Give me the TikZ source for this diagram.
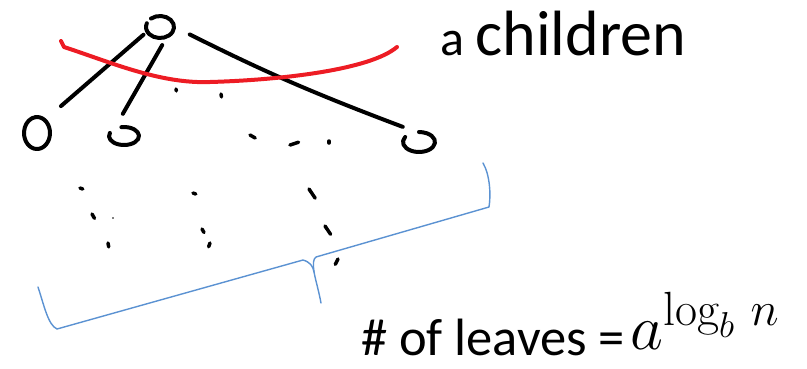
\RequirePackage{fix-cm}
\documentclass[tikz,border=0pt]{standalone}
\usepackage{fontspec}
\newfontfamily\calibri{Carlito}
\usepackage{tikz}
\definecolor{inkred}{RGB}{237,28,36}
\definecolor{braceblue}{RGB}{91,146,210}
\DeclareMathSizes{64}{64}{48}{36}

\begin{document}
\begin{tikzpicture}[x=1pt, y=1pt, line cap=round, line join=round,
    ink/.style={line width=4pt, black},
    vertex/.style={circle, inner sep=0pt, minimum size=#1},
    speck/.style={line width=3.5pt, black}]
\useasboundingbox (0,0) rectangle (807,-368);
% tree
\node[vertex=36pt] (root) at (160,-27) {};
\node[vertex=44pt] (leafA) at (37,-133) {};
\node[vertex=44pt] (leafB) at (124,-136) {};
\node[vertex=44pt] (leafC) at (419,-142) {};
\draw[ink] ([shift={(130:14 and 11)}]root.center) arc[start angle=130, end angle=-200, x radius=14, y radius=11];
\draw[ink] ([shift={(100:13 and 16)}]leafA.center) arc[start angle=100, end angle=-265, x radius=13, y radius=16];
\draw[ink] ([shift={(160:15 and 9)}]leafB.center) arc[start angle=160, end angle=460, x radius=15, y radius=9];
\draw[ink] ([shift={(150:16 and 10)}]leafC.center) arc[start angle=150, end angle=450, x radius=16, y radius=10];
\draw[ink, shorten <=14pt] (leafA.53) -- (root.205);
\draw[ink] (leafB.93) -- (root.277);
\draw[ink, shorten <=13pt] (root.-5) to[bend right=3] (leafC.137);
% the rest of the levels
\foreach \px/\py/\ang/\len in {176/89/-80/2, 221/94/-80/3, 250/135/-30/6, 290/145/18/9,
    329/141/-90/2, 80/188/-20/3, 92/214/-60/5, 108/243/-80/4, 193/193/-20/3,
    202/229/-60/4, 210/243/-110/4, 309/189/-56/11, 325/226/-56/10, 338/259/-117/6}
  \draw[speck] (\px,-\py) -- ++(\ang:\len);
\fill (113,-218) circle (0.8);
% children cut
\draw[inkred, line width=4pt] (61,-41) -- (64,-47) .. controls (110,-62) and (160,-84) .. (210,-82)
    .. controls (280,-80) and (370,-70) .. (397,-47);
% brace under the leaves
\draw[braceblue, line width=1.4pt] (38,-287) .. controls (44,-305) and (48,-325) .. (57,-329) -- (303,-260)
    .. controls (310,-262) and (313,-266) .. (314,-272) .. controls (316,-282) and (319,-292) .. (321,-303);
\draw[braceblue, line width=1.4pt] (314,-272) .. controls (313,-264) and (313,-259) .. (316,-257) -- (489,-207)
    .. controls (491,-195) and (490,-175) .. (483,-163);
% labels
\node[anchor=base west, inner sep=0pt] (kids) at (440,-55)
    {\calibri\fontsize{50}{60}\selectfont a \fontsize{64}{70}\selectfont children};
\node[anchor=base west, inner sep=0pt] (leaves) at (361,-355)
    {\calibri\fontsize{52.5}{60}\selectfont\# of leaves =};
\node[anchor=base west, inner sep=0pt] (count) at (630,-349)
    {\fontsize{64}{70}\selectfont$a^{\log_b\, n}$};
\end{tikzpicture}
\end{document}
